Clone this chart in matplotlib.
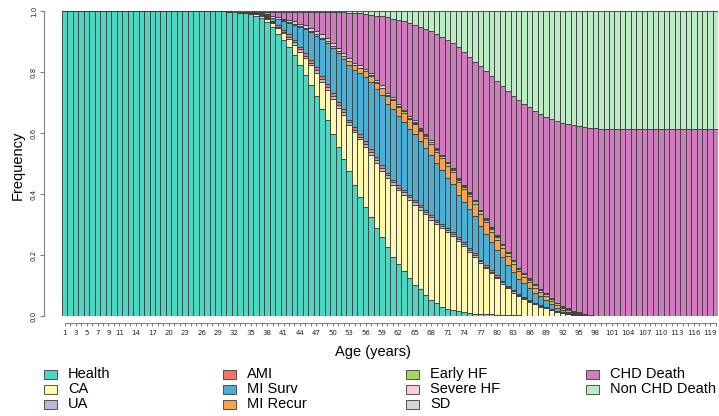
import matplotlib
matplotlib.use("Agg")
import matplotlib.pyplot as plt
from matplotlib.patches import Rectangle

# Markov trace: share of the cohort in each state, ages 1-120
ages = list(range(1, 121))

health = ([1.0] * 30 +
          [.999, .998, .996, .994, .991, .985, .977, .965, .947, .927,
           .906, .882, .857, .825, .792, .758, .721, .680, .644, .598,
           .555, .516, .475, .430, .391, .357, .326, .290, .259, .226,
           .194, .170, .149, .125, .104, .089, .071, .054, .045, .032,
           .025, .020, .016, .013, .011, .009, .008, .007, .006, .005,
           .004, .004, .003, .003, .002, .002, .002, .001, .001, .001] +
          [0.0] * 30)
ca = ([0.0] * 32 +
      [.001, .002, .003, .005, .007, .010, .014, .017,
       .022, .028, .034, .043, .054, .065, .077, .088, .098, .114,
       .129, .145, .152, .173, .189, .199, .204, .213, .219, .227,
       .238, .243, .249, .257, .262, .261, .263, .263, .257, .256,
       .251, .242, .232, .217, .201, .185, .168, .151, .135, .120,
       .103, .088, .075, .063, .054, .045, .037, .031, .025, .019,
       .015, .011, .008, .005, .003, .002, .001] +
      [0.0] * 23)
ua = ([0.0] * 33 +
      [.001, .001, .001, .002, .003, .004, .004,
       .005, .006, .007, .007, .008, .009, .009, .010, .010, .010,
       .010, .010, .009, .009, .009, .009, .009, .009, .009, .009,
       .008, .008, .008, .008, .008, .008, .007, .007, .007, .007,
       .007, .007, .006, .006, .006, .006, .005, .005, .005, .005,
       .004, .004, .004, .004, .003, .003, .003, .003, .002, .002,
       .002, .001, .001, .001, .001] +
      [0.0] * 25)
ami = ([0.0] * 33 +
       [.001, .001, .001, .002, .003, .004, .006,
        .007, .008, .008, .009, .009, .009, .010, .010, .010, .010,
        .010, .009, .009, .009, .009, .009, .009, .009, .009, .009,
        .008, .008, .008, .008, .008, .008, .007, .007, .007, .007,
        .007, .007, .006, .006, .006, .006, .005, .005, .005, .005,
        .004, .004, .004, .004, .003, .003, .003, .003, .002, .002,
        .002, .001, .001, .001, .001] +
       [0.0] * 25)
mi_surv = ([0.0] * 34 +
           [.001, .002, .003, .005, .009, .020,
            .028, .037, .050, .064, .079, .091, .103, .120, .133, .148,
            .158, .163, .180, .187, .199, .212, .221, .224, .228, .226,
            .232, .227, .224, .217, .216, .208, .203, .198, .187, .178,
            .165, .158, .138, .133, .128, .122, .111, .102, .091, .082,
            .078, .068, .058, .049, .046, .039, .031, .027, .023, .016,
            .009, .007, .005, .003, .002, .001, .001] +
           [0.0] * 23)
mi_recur = ([0.0] * 37 +
            [.001, .001, .002,
             .002, .003, .003, .003, .004, .005, .005, .006, .006, .007,
             .009, .011, .013, .015, .016, .017, .019, .021, .023, .026,
             .028, .029, .030, .031, .032, .033, .035, .036, .037, .038,
             .039, .040, .041, .041, .041, .040, .039, .038, .036, .034,
             .032, .030, .027, .025, .022, .020, .018, .015, .013, .011,
             .009, .007, .005, .004, .003, .002, .001] +
            [0.0] * 23)
early_hf = ([0.0] * 54 +
            [.001, .001, .002, .002, .003, .003,
             .003, .004, .004, .004, .005, .005, .005, .006, .006, .006,
             .007, .007, .008, .008, .008, .009, .009, .009, .009, .009,
             .009, .009, .009, .008, .008, .008, .007, .007, .006, .006,
             .005, .004, .004, .003, .002, .002, .001, .001] +
            [0.0] * 22)
severe_hf = ([0.0] * 59 + [.001] * 5 + [.002] * 25 + [.001] * 6 + [0.0] * 25)
sd = ([0.0] * 32 +
      [.001, .001, .002, .002, .003, .004, .005, .005,
       .006, .007, .008, .008, .009, .009, .009, .010, .010, .010,
       .010, .010, .010, .009, .009, .008, .008, .007, .007, .006,
       .006, .006, .005, .005, .005, .004, .004, .004, .004, .003] +
      [.003] * 10 + [.002] * 10 + [.001] * 6 + [0.0] * 24)
chd_death = ([0.0] * 30 +
             [.001, .001, .001, .000, .000, .003, .005, .008, .015, .018,
              .023, .028, .032, .039, .043, .052, .064, .074, .087, .101,
              .116, .133, .148, .163, .170, .179, .191, .211, .226, .247,
              .258, .276, .289, .305, .313, .331, .345, .357, .374, .388,
              .401, .410, .432, .438, .445, .453, .470, .483, .497, .508,
              .518, .528, .539, .549, .555, .561, .568, .572, .578, .587,
              .597, .602, .604, .607, .609, .612, .614, .615, .615, .614] +
             [.614] * 20)
non_chd_death = ([0.0] * 31 + [.001] * 12 + [.002] * 7 +
                 [.003, .003, .004, .005, .007, .009, .011, .014, .017, .020,
                  .024, .028, .033, .039, .045, .051, .058, .066, .074, .083,
                  .093, .104, .116, .133, .149, .165, .180, .195, .211, .227,
                  .244, .261, .277, .291, .303, .315, .327, .337, .346, .353,
                  .359, .365, .370, .374, .377, .380, .382, .384, .385, .386] +
                 [.386] * 20)

states = ["Health", "CA", "UA", "AMI", "MI Surv", "MI Recur",
          "Early HF", "Severe HF", "SD", "CHD Death", "Non CHD Death"]
series = [health, ca, ua, ami, mi_surv, mi_recur,
          early_hf, severe_hf, sd, chd_death, non_chd_death]
colors = ["#4fd6c3", "#fff9b0", "#bdb8da", "#f87168", "#4caed3", "#fba24f",
          "#a2d75d", "#fcc9e2", "#d6d6d6", "#d07cbe", "#bdebc3"]

tick_label_ages = [1, 3, 5, 7, 9, 11, 14, 17, 20, 23, 26, 29, 32, 35, 38, 41,
                   44, 47, 50, 53, 56, 59, 62, 65, 68, 71, 74, 77, 80, 83, 86,
                   89, 92, 95, 98, 101, 104, 107, 110, 113, 116, 119]

fig = plt.figure(figsize=(7.19, 4.16), dpi=100)
ax = fig.add_axes([62 / 719, 1 - 316.3 / 416, 656.4 / 719, 305 / 416])

bottom = [0.0] * len(ages)
for name, vals, col in zip(states, series, colors):
    ax.bar(ages, vals, bottom=bottom, width=1.0, color=col,
           edgecolor="#3a3a3a", linewidth=0.6, label=name)
    bottom = [b + v for b, v in zip(bottom, vals)]

ax.set_xlim(0.5, 120.5)
ax.set_ylim(0, 1)

for s in ["top", "right"]:
    ax.spines[s].set_visible(False)
ax.spines["left"].set_position(("outward", 13))
ax.spines["left"].set_bounds(0, 1)
ax.spines["bottom"].set_position(("outward", 4.5))
ax.spines["bottom"].set_bounds(1, 120)
for s in ["left", "bottom"]:
    ax.spines[s].set_color("#808080")
    ax.spines[s].set_linewidth(0.8)

ax.set_yticks([0, 0.2, 0.4, 0.6, 0.8, 1.0])
ax.set_yticklabels(["0.0", "0.2", "0.4", "0.6", "0.8", "1.0"],
                   rotation=90, va="center", fontsize=5)
ax.set_xticks(ages)
ax.set_xticklabels([str(a) if a in tick_label_ages else "" for a in ages],
                   fontsize=5)
ax.tick_params(axis="y", length=3, color="#808080", pad=2, labelcolor="#222222")
ax.tick_params(axis="x", length=2.5, color="#808080", pad=3, labelcolor="#222222")

fig.text(18 / 719, 1 - 165 / 416, "Frequency", rotation=90, ha="center",
         va="center", fontsize=10.5, family="Liberation Sans")
fig.text(373 / 719, 1 - 352 / 416, "Age (years)", ha="center", va="center",
         fontsize=10.5, family="Liberation Sans")

# legend, 4 columns x 3 rows, filled column by column
col_x = [44, 223, 406, 586]
row_y = [374, 389, 404]
for i, (name, col) in enumerate(zip(states, colors)):
    cx = col_x[i // 3]
    cy = row_y[i % 3]
    fig.patches.append(Rectangle((cx / 719, 1 - (cy + 4.5) / 416), 13 / 719, 9 / 416,
                                 transform=fig.transFigure, facecolor=col,
                                 edgecolor="#3a3a3a", linewidth=0.6))
    fig.text((cx + 24) / 719, 1 - cy / 416, name, ha="left", va="center",
             fontsize=10.5, family="Liberation Sans")

fig.savefig("out.png", dpi=100)
